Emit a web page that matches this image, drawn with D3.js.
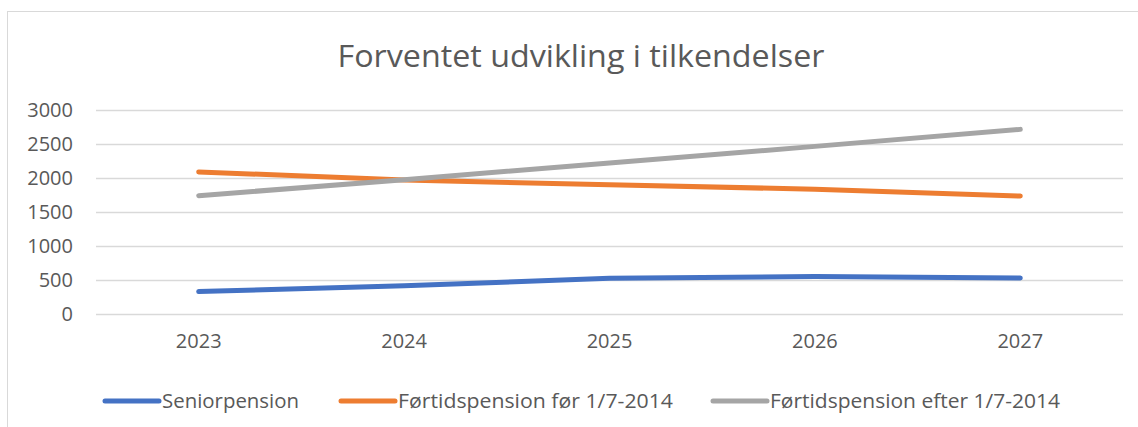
<!DOCTYPE html>
<html>
<head>
<meta charset="utf-8">
<script src="https://cdn.jsdelivr.net/npm/d3@7"></script>
<style>
    body { margin: 0; background: #fff; }
    text { font-family: "Open Sans", "Noto Sans", sans-serif; fill: #595959; }
</style>
</head>
<body>
<div id="chart"></div>
<script>
// INITIAL VARIABLE DEFINITIONS
const title = "Forventet udvikling i tilkendelser";
const years = ["2023", "2024", "2025", "2026", "2027"];
const yTicks = [0, 500, 1000, 1500, 2000, 2500, 3000];
const seriesNames = ["Seniorpension", "Førtidspension før 1/7-2014", "Førtidspension efter 1/7-2014"];
const seniorpension = [330, 415, 525, 550, 530];
const foerFoer = [2090, 1970, 1900, 1835, 1735];
const foerEfter = [1740, 1975, 2220, 2465, 2715];
const colors = ["#4472C4", "#ED7D31", "#A5A5A5"];

const width = 1138;
const height = 427;

// SVG
const svg = d3.select("#chart").append("svg")
    .attr("width", width)
    .attr("height", height);

// Chart border (only top and left are inside the picture)
svg.append("rect")
    .attr("x", 7.5)
    .attr("y", 11.5)
    .attr("width", width + 20)
    .attr("height", height + 20)
    .attr("fill", "none")
    .attr("stroke", "#d9d9d9");

// Title
svg.append("text")
    .attr("x", 581)
    .attr("y", 67)
    .attr("text-anchor", "middle")
    .attr("font-size", 31)
    .attr("textLength", 487)
    .attr("lengthAdjust", "spacingAndGlyphs")
    .text(title);

// Scales
const x = d3.scaleBand().domain(years).range([96, 1123]);
const y = d3.scaleLinear().domain([0, 3000]).range([314, 110]);

// Gridlines
svg.append("g")
    .selectAll("line")
    .data(yTicks)
    .enter().append("line")
    .attr("x1", 96)
    .attr("x2", 1123)
    .attr("y1", d => Math.round(y(d)) + 0.5)
    .attr("y2", d => Math.round(y(d)) + 0.5)
    .attr("stroke", "#d9d9d9")
    .attr("stroke-width", 1.5);

// Y axis labels
const yAxis = svg.append("g")
    .attr("transform", "translate(73,0)")
    .call(d3.axisLeft(y).tickValues(yTicks).tickFormat(d3.format("d")).tickSize(0).tickPadding(0));
yAxis.select(".domain").remove();
yAxis.selectAll("text")
    .attr("font-size", 20)
    .attr("font-family", null)
    .attr("fill", "#595959");

// X axis labels
const xAxis = svg.append("g")
    .attr("transform", "translate(0,334)")
    .call(d3.axisBottom(x).tickSize(0).tickPadding(0));
xAxis.select(".domain").remove();
xAxis.selectAll("text")
    .attr("font-size", 20)
    .attr("font-family", null)
    .attr("fill", "#595959");

// Lines
const allSeries = [seniorpension, foerFoer, foerEfter];
const line = d3.line()
    .x((d, i) => x(years[i]) + x.bandwidth() / 2)
    .y(d => y(d));

svg.append("g")
    .selectAll("path")
    .data(allSeries)
    .enter().append("path")
    .attr("d", d => line(d))
    .attr("fill", "none")
    .attr("stroke", (d, i) => colors[i])
    .attr("stroke-width", 5)
    .attr("stroke-linecap", "round")
    .attr("stroke-linejoin", "round");

// Legend
const legendX = [105, 341, 713];
const legendTextLen = [137, 275, 290];
const legend = svg.append("g")
    .selectAll("g")
    .data(seriesNames)
    .enter().append("g")
    .attr("transform", (d, i) => `translate(${legendX[i]},401)`);

legend.append("line")
    .attr("x1", 0)
    .attr("x2", 54)
    .attr("stroke", (d, i) => colors[i])
    .attr("stroke-width", 5)
    .attr("stroke-linecap", "round");

legend.append("text")
    .attr("x", 57)
    .attr("y", 7)
    .attr("font-size", 20)
    .attr("textLength", (d, i) => legendTextLen[i])
    .attr("lengthAdjust", "spacingAndGlyphs")
    .text(d => d);
</script>
</body>
</html>
